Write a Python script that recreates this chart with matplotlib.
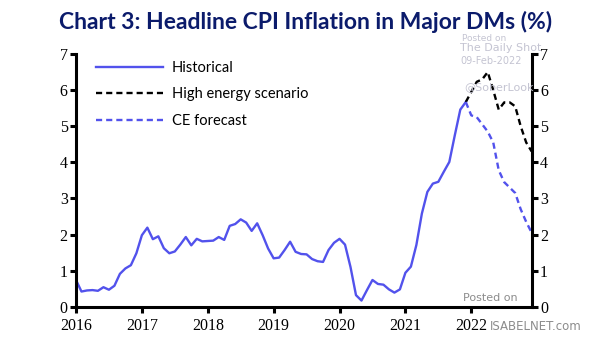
import numpy as np
import matplotlib.pyplot as plt

# Headline CPI inflation, major DMs (%), monthly Jan 2016 - Dec 2021
historical = [0.74, 0.42, 0.45, 0.46, 0.44, 0.54, 0.47, 0.58, 0.91, 1.06, 1.15, 1.48,
              1.98, 2.19, 1.87, 1.95, 1.62, 1.48, 1.53, 1.72, 1.93, 1.70, 1.88, 1.81,
              1.82, 1.83, 1.93, 1.85, 2.24, 2.29, 2.42, 2.33, 2.10, 2.31, 1.98, 1.61,
              1.34, 1.36, 1.57, 1.80, 1.52, 1.46, 1.45, 1.32, 1.26, 1.24, 1.57, 1.77,
              1.88, 1.72, 1.10, 0.32, 0.17, 0.46, 0.74, 0.63, 0.61, 0.48, 0.39, 0.48,
              0.94, 1.11, 1.71, 2.58, 3.18, 3.41, 3.46, 3.74, 4.01, 4.75, 5.46, 5.67]
# forecasts Dec 2021 (last actual) - Dec 2022
high_energy = [5.67, 5.95, 6.23, 6.30, 6.50, 6.00, 5.46, 5.66, 5.66, 5.55, 5.00, 4.55, 4.30]
ce_forecast = [5.67, 5.30, 5.25, 5.05, 4.85, 4.55, 3.78, 3.45, 3.30, 3.15, 2.70, 2.35, 2.05]
years = ['2016', '2017', '2018', '2019', '2020', '2021', '2022']

blue = '#5252EC'
navy = '#0B1B6B'
wm = '#C4C4D2'

x_hist = np.arange(len(historical))
x_fc = np.arange(len(historical) - 1, len(historical) - 1 + len(high_energy))

fig = plt.figure(figsize=(6.05, 3.41), dpi=100)
ax = fig.add_axes([0.1256, 0.1006, 0.7532, 0.741])

ax.plot(x_hist, historical, color=blue, lw=1.7, label='Historical')
ax.plot(x_fc, high_energy, color='black', lw=1.7, dashes=(2.6, 1.7), label='High energy scenario')
ax.plot(x_fc, ce_forecast, color=blue, lw=1.7, dashes=(2.6, 1.7), label='CE forecast')

ax.set_xlim(0, 83)
ax.set_ylim(0, 7)
ax.set_xticks(np.arange(len(years)) * 12)
ax.set_xticklabels(years)
ax.set_yticks(range(8))

for s in ['left', 'right', 'bottom']:
    ax.spines[s].set_linewidth(2.2)
ax.spines['top'].set_visible(False)
ax.tick_params(axis='both', direction='out', length=4, width=2.2,
               labelsize=11.5, pad=2)
ax.tick_params(axis='x', pad=4)
ax.tick_params(axis='y', left=True, right=True, labelleft=True, labelright=True)
for lab in ax.get_xticklabels() + ax.get_yticklabels():
    lab.set_fontfamily('Liberation Serif')

leg = ax.legend(loc='upper left', bbox_to_anchor=(0.044, 0.973), frameon=False,
                handlelength=4.6, handletextpad=0.6, labelspacing=0.85,
                borderpad=0, borderaxespad=0, prop={'family': 'Lato', 'size': 10.5})

fig.text(0.505, 0.935, 'Chart 3: Headline CPI Inflation in Major DMs (%)',
         ha='center', va='center', fontsize=16.5, fontweight='bold',
         color=navy, family='Lato')

# watermarks
fig.text(0.80, 0.888, 'Posted on', fontsize=6.5, color=wm, ha='center', va='center')
fig.text(0.828, 0.858, 'The Daily Shot', fontsize=8, color=wm, ha='center', va='center')
fig.text(0.812, 0.820, '09-Feb-2022', fontsize=7, color=wm, ha='center', va='center')
fig.text(0.824, 0.745, '@SoberLook', fontsize=8, color=wm, ha='center', va='center')
fig.text(0.81, 0.125, 'Posted on', fontsize=8, color='#8C8C8C', ha='center', va='center')
fig.text(0.885, 0.042, 'ISABELNET.com', fontsize=8.5, color='#8C8C8C', ha='center', va='center')

fig.savefig('out.png', dpi=100)
